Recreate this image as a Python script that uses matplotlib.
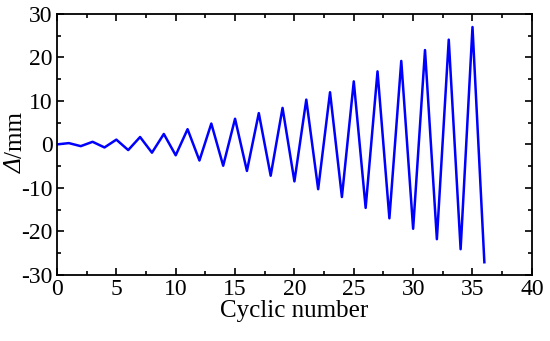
import matplotlib
matplotlib.use("Agg")
import matplotlib.pyplot as plt
from matplotlib.ticker import MultipleLocator

cycles = list(range(0, 37))
disp = [0.0, 0.3, -0.4, 0.6, -0.7, 1.1, -1.3, 1.7, -1.9, 2.4, -2.5,
        3.5, -3.7, 4.8, -4.9, 5.9, -6.1, 7.2, -7.2, 8.4, -8.5,
        10.3, -10.3, 12.0, -12.1, 14.5, -14.6, 16.8, -17.0, 19.2, -19.4,
        21.7, -21.8, 24.1, -24.1, 27.0, -27.1]

plt.rcParams['font.family'] = ['Liberation Serif', 'DejaVu Serif']
plt.rcParams['axes.unicode_minus'] = False

fig = plt.figure(figsize=(5.5, 3.41), dpi=100)
ax = fig.add_axes([0.1036, 0.194, 0.8634, 0.765])
ax.plot(cycles, disp, color='#0000ff', lw=1.8)
ax.set_xlim(0, 40)
ax.set_ylim(-30, 30)
ax.xaxis.set_major_locator(MultipleLocator(5))
ax.xaxis.set_minor_locator(MultipleLocator(2.5))
ax.yaxis.set_major_locator(MultipleLocator(10))
ax.yaxis.set_minor_locator(MultipleLocator(5))
ax.tick_params(which='both', direction='in', top=True, right=True, labelsize=17, width=1.2)
ax.tick_params(which='major', length=5, pad=3)
ax.tick_params(which='minor', length=3)
for s in ax.spines.values():
    s.set_linewidth(1.3)
ax.set_xlabel('Cyclic number', fontsize=18, labelpad=0)

# y label: italic Delta + upright "/mm"
ylab_x = 16 / 550
joint_y = 1 - 158 / 341
fig.text(ylab_x, joint_y, '\u0394', rotation=90, fontsize=18, fontstyle='italic',
         ha='center', va='top')
fig.text(ylab_x, joint_y, '/mm', rotation=90, fontsize=18,
         ha='center', va='bottom')
fig.savefig('out.png', dpi=100)
